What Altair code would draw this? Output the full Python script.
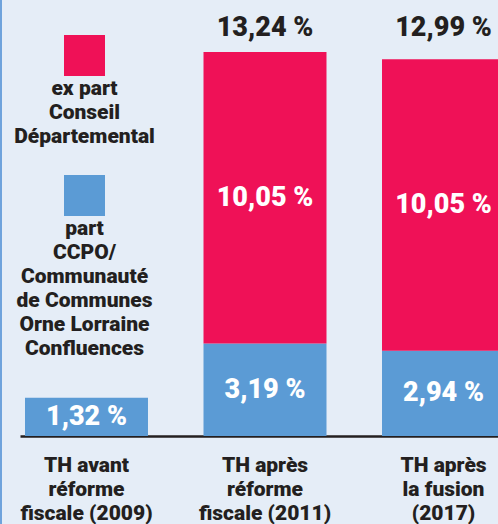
import altair as alt
import pandas as pd

# ---- data ----
categories = ["TH avant\nréforme\nfiscale (2009)",
              "TH après\nréforme\nfiscale (2011)",
              "TH après\nla fusion\n(2017)"]
part_ccpo = [1.32, 3.19, 2.94]
part_cd = [None, 10.05, 10.05]
series = ["part CCPO/Communauté de Communes Orne Lorraine Confluences",
          "ex part Conseil Départemental"]
legend_labels = ["part\nCCPO/\nCommunauté\nde Communes\nOrne Lorraine\nConfluences",
                 "ex part\nConseil\nDépartemental"]
colors = ["#5b9bd5", "#ef1157"]

FONT = "Roboto"
W = 900
DARK = "#231f20"
BG = "#e5edf7"

rows = []
for c, v in zip(categories, part_ccpo):
    rows.append({"cat": c, "serie": series[0], "value": v, "ord": 0})
for c, v in zip(categories, part_cd):
    if v is not None:
        rows.append({"cat": c, "serie": series[1], "value": v, "ord": 1})
df = pd.DataFrame(rows)

xenc = alt.X(
    "cat:N", sort=categories,
    scale=alt.Scale(range=[20, 510], paddingInner=0.311, paddingOuter=0.028),
    axis=alt.Axis(title=None, labelAngle=0, ticks=False, grid=False,
                  domainColor=DARK, domainWidth=2.5,
                  labelExpr="split(datum.label, '\\n')",
                  labelFont=FONT, labelFontSize=21, labelFontWeight=W,
                  labelColor=DARK, labelLineHeight=24, labelPadding=18,
                  labelBaseline="top"),
)
yscale = alt.Scale(domain=[0, 15.03], nice=False, zero=True)

stacked = alt.Chart(df).transform_stack(
    stack="value", groupby=["cat"], as_=["y0", "y1"],
    sort=[alt.SortField("ord", order="ascending")],
)

bars = stacked.mark_bar(cornerRadius=0).encode(
    x=xenc,
    y=alt.Y("y0:Q", scale=yscale, axis=None),
    y2="y1:Q",
    color=alt.Color("serie:N", scale=alt.Scale(domain=series, range=colors), legend=None),
)

inner = stacked.transform_calculate(
    mid="(datum.y0 + datum.y1) / 2",
    lab="replace(format(datum.value, '.2f'), '.', ',') + ' %'",
).mark_text(font=FONT, fontSize=27, fontWeight=W, color="white", baseline="middle").encode(
    x=xenc,
    y=alt.Y("mid:Q", scale=yscale, axis=None),
    text="lab:N",
)

totals = alt.Chart(df).transform_aggregate(
    total="sum(value)", n="count()", groupby=["cat"]
).transform_filter("datum.n > 1").transform_calculate(
    lab="replace(format(datum.total, '.2f'), '.', ',') + ' %'"
).mark_text(font=FONT, fontSize=27, fontWeight=W, color=DARK, baseline="middle").encode(
    x=xenc,
    y=alt.value(28),
    text="lab:N",
)

one = alt.Chart(pd.DataFrame({"a": [0]}))

border = one.mark_rule(color="#6fa3dc", strokeWidth=2).encode(
    x=alt.value(1), y=alt.value(0), y2=alt.value(524))

sq_cd = one.mark_square(size=1681, color=colors[1], opacity=1).encode(
    x=alt.value(84.5), y=alt.value(55.5))
sq_cc = one.mark_square(size=1681, color=colors[0], opacity=1).encode(
    x=alt.value(84.5), y=alt.value(195.5))

txt_cd = one.mark_text(font=FONT, fontSize=21, fontWeight=W, color=DARK,
                       align="center", baseline="top", lineBreak="\n", lineHeight=24).encode(
    x=alt.value(84.5), y=alt.value(78), text=alt.value(legend_labels[1]))
txt_cc = one.mark_text(font=FONT, fontSize=21, fontWeight=W, color=DARK,
                       align="center", baseline="top", lineBreak="\n", lineHeight=24).encode(
    x=alt.value(84.5), y=alt.value(218), text=alt.value(legend_labels[0]))

chart = alt.layer(bars, inner, totals, sq_cd, sq_cc, txt_cd, txt_cc, border).properties(
    width=498, height=436,
    autosize=alt.AutoSizeParams(type="none"),
    padding={"left": 0, "top": 0, "right": 0, "bottom": 88},
    background=BG,
).configure_view(stroke=None)

chart.save("out.html", embed_options={"renderer": "svg", "actions": False})
